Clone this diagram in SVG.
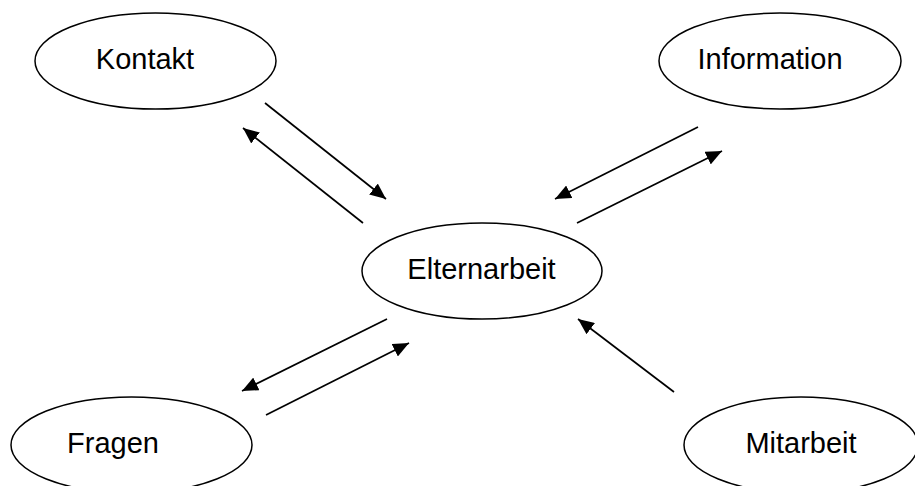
<svg xmlns="http://www.w3.org/2000/svg" width="915" height="486" viewBox="0 0 915 486">
  <style>
    .node ellipse { fill: #ffffff; stroke: #000000; stroke-width: 1.5; }
    .node text { font-family: "Liberation Sans", Arial, sans-serif; font-size: 29px; fill: #000000; text-anchor: middle; }
    .edges line { stroke: #000000; stroke-width: 1.7; marker-end: url(#arrow); }
  </style>
  <defs>
    <marker id="arrow" markerUnits="userSpaceOnUse" markerWidth="17" markerHeight="14" refX="16" refY="7" orient="auto">
      <path d="M0,0 L16,7 L0,14 z" fill="#000000"/>
    </marker>
  </defs>
  <rect width="915" height="486" fill="#ffffff"/>

  <g id="kontakt" class="node">
    <ellipse cx="155.5" cy="61" rx="120.5" ry="48"/>
    <text x="145" y="69">Kontakt</text>
  </g>
  <g id="information" class="node">
    <ellipse cx="780" cy="61" rx="121" ry="48"/>
    <text x="770" y="69">Information</text>
  </g>
  <g id="elternarbeit" class="node">
    <ellipse cx="482" cy="271" rx="120" ry="48"/>
    <text x="481.5" y="279">Elternarbeit</text>
  </g>
  <g id="fragen" class="node">
    <ellipse cx="131.5" cy="445" rx="120.5" ry="48"/>
    <text x="113" y="453">Fragen</text>
  </g>
  <g id="mitarbeit" class="node">
    <ellipse cx="801" cy="445" rx="117" ry="48"/>
    <text x="801" y="453">Mitarbeit</text>
  </g>

  <g id="connectors" class="edges">
    <line x1="265" y1="103" x2="386" y2="199"/>
    <line x1="363" y1="223" x2="243" y2="128"/>
    <line x1="698" y1="127" x2="555" y2="199"/>
    <line x1="577" y1="223" x2="722" y2="151"/>
    <line x1="387" y1="319" x2="242" y2="391"/>
    <line x1="266" y1="415" x2="409" y2="343"/>
    <line x1="674" y1="392" x2="578" y2="319"/>
  </g>
</svg>
